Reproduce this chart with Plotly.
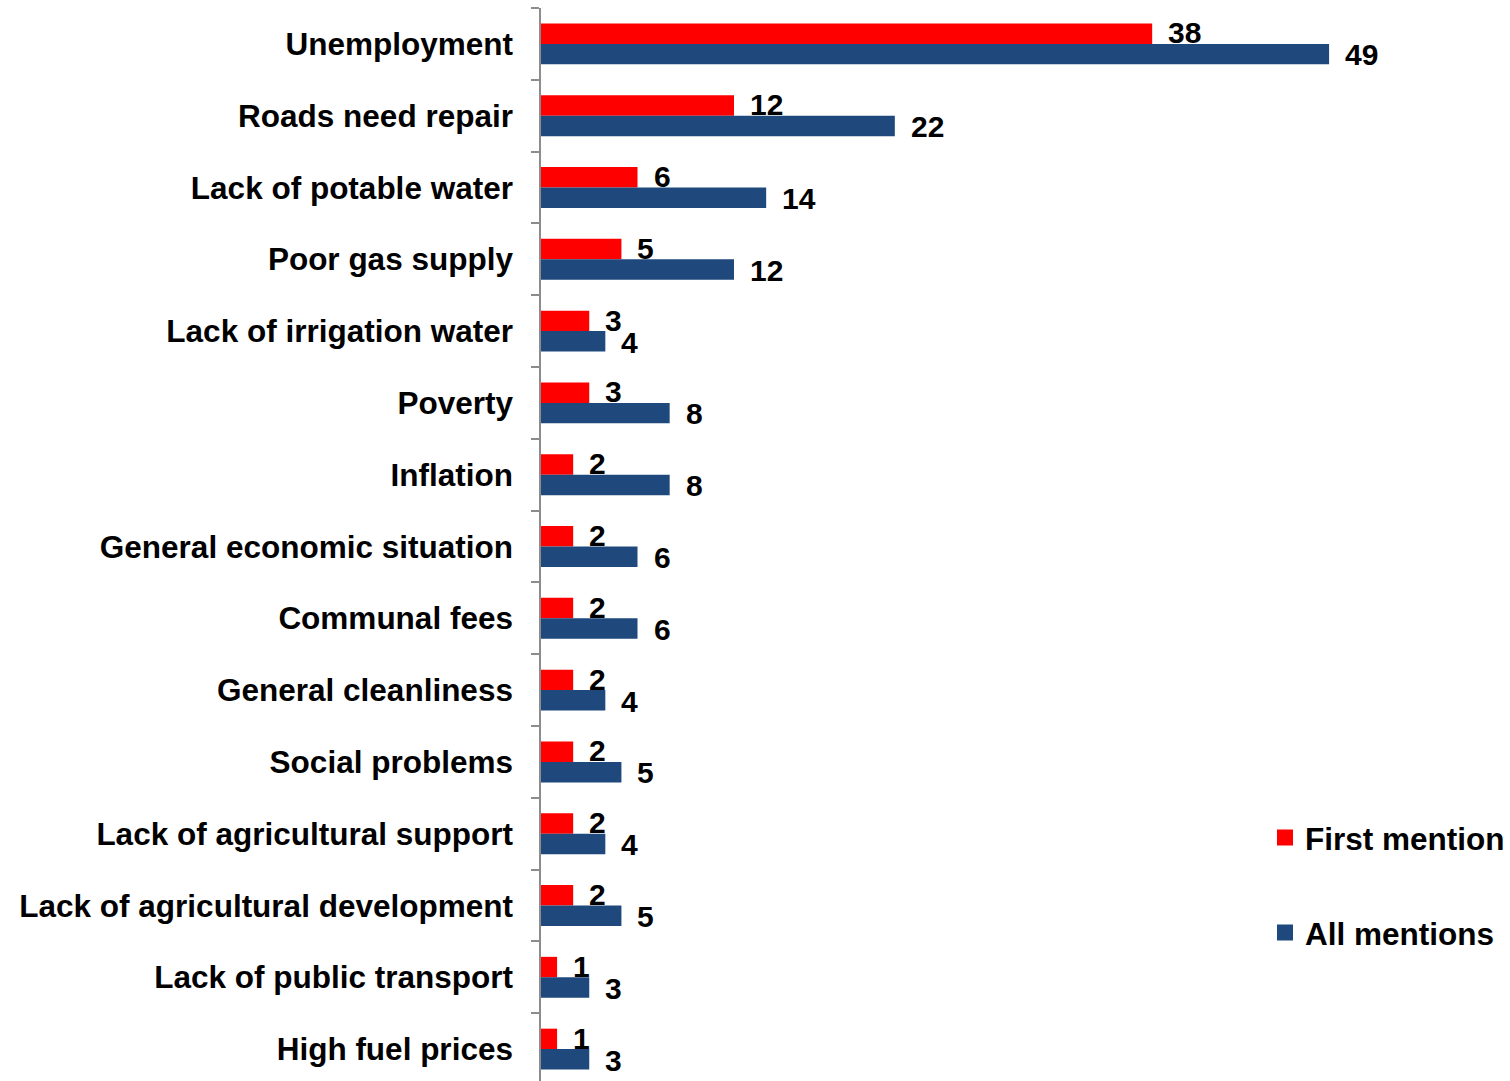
import plotly.graph_objects as go

# Problems named by respondents (percent)
categories = [
    "Unemployment",
    "Roads need repair",
    "Lack of potable water",
    "Poor gas supply",
    "Lack of irrigation water",
    "Poverty",
    "Inflation",
    "General economic situation",
    "Communal fees",
    "General cleanliness",
    "Social problems",
    "Lack of agricultural support",
    "Lack of agricultural development",
    "Lack of public transport",
    "High fuel prices",
]
first_mention = [38, 12, 6, 5, 3, 3, 2, 2, 2, 2, 2, 2, 2, 1, 1]
all_mentions = [49, 22, 14, 12, 4, 8, 8, 6, 6, 4, 5, 4, 5, 3, 3]
series_names = ["First mention", "All mentions"]

RED = "#FF0000"
BLUE = "#1F497D"
FONT = "Liberation Sans, Arial, sans-serif"

fig = go.Figure()
for name, vals, col, grp in [(series_names[0], first_mention, RED, "a"),
                             (series_names[1], all_mentions, BLUE, "b")]:
    fig.add_trace(go.Bar(
        y=categories, x=vals, orientation="h", name=name,
        marker=dict(color=col, line=dict(width=0)),
        legendgroup=grp, showlegend=False,
    ))
    # square legend swatch
    fig.add_trace(go.Scatter(
        x=[None], y=[None], mode="markers", name=f"<b>{name}</b>",
        marker=dict(symbol="square", size=16, color=col),
        legendgroup=grp, showlegend=True,
    ))

# value labels placed just right of each bar end
annotations = []
for cat, v in zip(categories, first_mention):
    annotations.append(dict(x=v, y=cat, text=f"<b>{v}</b>", showarrow=False,
                            xanchor="left", yanchor="middle", xshift=14, yshift=11,
                            font=dict(family=FONT, size=30, color="black")))
for cat, v in zip(categories, all_mentions):
    annotations.append(dict(x=v, y=cat, text=f"<b>{v}</b>", showarrow=False,
                            xanchor="left", yanchor="middle", xshift=14, yshift=-11,
                            font=dict(family=FONT, size=30, color="black")))

fig.update_layout(
    width=1510, height=1081,
    margin=dict(l=541, r=0, t=8, b=0),
    paper_bgcolor="white", plot_bgcolor="white",
    barmode="group", bargap=0.43, bargroupgap=0,
    font=dict(family=FONT, size=31.5, color="black"),
    annotations=annotations,
    showlegend=True,
    legend=dict(
        x=0.748, y=0.252, xanchor="left", yanchor="top",
        traceorder="grouped", tracegroupgap=51,
        font=dict(family=FONT, size=31.5, color="black"),
        bgcolor="rgba(0,0,0,0)", itemwidth=30, itemsizing="trace",
    ),
    xaxis=dict(range=[0, 969 / 16.1], visible=False, showgrid=False, zeroline=False),
    yaxis=dict(
        type="category", range=[14.444, -0.5],
        showline=True, linecolor="#8c8c8c", linewidth=1.5,
        ticks="outside", tickson="boundaries", ticklen=8, tickcolor="#8c8c8c",
        tickwidth=1.5, ticklabelstandoff=20, showgrid=False,
        tickfont=dict(family=FONT, size=31.5, color="black"),
        ticktext=[f"<b>{c}</b>" for c in categories], tickvals=categories,
    ),
)

fig.write_html("out.html")
